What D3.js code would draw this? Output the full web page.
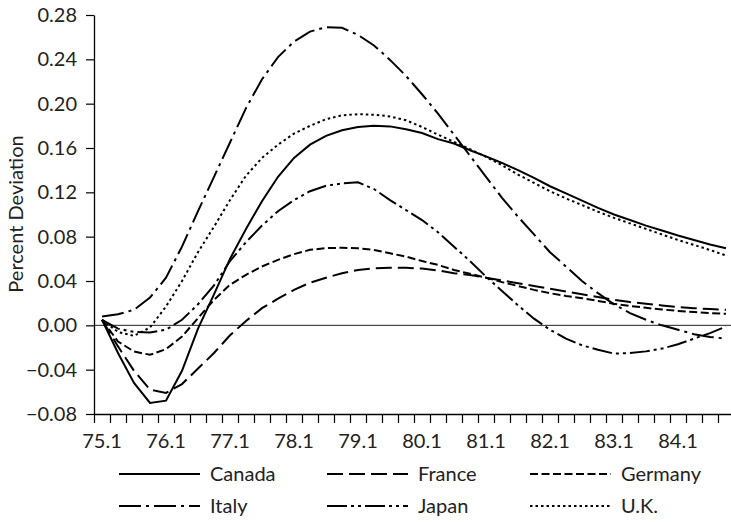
<!DOCTYPE html>
<html>
<head>
<meta charset="utf-8">
<script src="https://cdn.jsdelivr.net/npm/d3@7"></script>
<style>
  body { margin: 0; background: #fff; }
  svg { display: block; font-family: Lato, "Open Sans", sans-serif; }
</style>
</head>
<body>
<div id="chart"></div>
<script>
// quarters 75.1 .. 84.4
const quarters = [
  "75.1","75.2","75.3","75.4","76.1","76.2","76.3","76.4","77.1","77.2",
  "77.3","77.4","78.1","78.2","78.3","78.4","79.1","79.2","79.3","79.4",
  "80.1","80.2","80.3","80.4","81.1","81.2","81.3","81.4","82.1","82.2",
  "82.3","82.4","83.1","83.2","83.3","83.4","84.1","84.2","84.3","84.4"
];
const tickLabels = ["75.1","76.1","77.1","78.1","79.1","80.1","81.1","82.1","83.1","84.1"];
const yTicks = [-0.08, -0.04, 0, 0.04, 0.08, 0.12, 0.16, 0.20, 0.24, 0.28];

const canada = [0.005, -0.025, -0.052, -0.070, -0.068, -0.041, -0.003, 0.028, 0.060, 0.087,
  0.112, 0.134, 0.151, 0.163, 0.171, 0.176, 0.179, 0.180, 0.1795, 0.177,
  0.1735, 0.168, 0.164, 0.158, 0.1525, 0.1465, 0.140, 0.133, 0.1255, 0.119,
  0.1125, 0.106, 0.100, 0.095, 0.090, 0.0855, 0.081, 0.077, 0.073, 0.0695];
const france = [0.005, -0.019, -0.041, -0.058, -0.061, -0.053, -0.039, -0.025, -0.009, 0.004,
  0.0155, 0.024, 0.032, 0.0385, 0.043, 0.047, 0.050, 0.0515, 0.052, 0.052,
  0.0512, 0.0495, 0.047, 0.0455, 0.043, 0.0405, 0.038, 0.0355, 0.033, 0.0305,
  0.028, 0.0255, 0.023, 0.021, 0.0195, 0.018, 0.0165, 0.0155, 0.0147, 0.014];
const germany = [0.005, -0.0146, -0.0236, -0.0266, -0.0215, -0.0101, 0.0065, 0.023, 0.0366, 0.0456,
  0.0531, 0.0591, 0.0642, 0.0681, 0.0697, 0.070, 0.0695, 0.068, 0.065, 0.062,
  0.058, 0.0545, 0.050, 0.0465, 0.043, 0.039, 0.0355, 0.032, 0.029, 0.0265,
  0.0245, 0.022, 0.0195, 0.0175, 0.0158, 0.0143, 0.013, 0.012, 0.011, 0.0104];
const italy = [0.008, 0.010, 0.014, 0.025, 0.043, 0.071, 0.103, 0.134, 0.165, 0.196,
  0.222, 0.242, 0.256, 0.265, 0.269, 0.2685, 0.262, 0.2525, 0.2395, 0.225,
  0.2085, 0.191, 0.172, 0.153, 0.134, 0.115, 0.098, 0.082, 0.066, 0.053,
  0.040, 0.029, 0.019, 0.011, 0.005, 0.000, -0.004, -0.008, -0.0105, -0.012];
const japan = [0.005, -0.003, -0.006, -0.0065, -0.004, 0.005, 0.019, 0.036, 0.058, 0.075,
  0.090, 0.103, 0.113, 0.121, 0.126, 0.128, 0.129, 0.123, 0.113, 0.104,
  0.095, 0.084, 0.071, 0.058, 0.044, 0.031, 0.018, 0.006, -0.004, -0.012,
  -0.018, -0.022, -0.0255, -0.025, -0.0235, -0.021, -0.017, -0.012, -0.007, -0.001];
const uk = [0.005, -0.006, -0.0095, -0.002, 0.017, 0.040, 0.066, 0.089, 0.113, 0.135,
  0.151, 0.163, 0.173, 0.180, 0.186, 0.1895, 0.1905, 0.190, 0.1885, 0.185,
  0.179, 0.172, 0.1655, 0.159, 0.152, 0.1445, 0.136, 0.1285, 0.121, 0.1145,
  0.1085, 0.1025, 0.097, 0.092, 0.087, 0.082, 0.077, 0.0725, 0.068, 0.063];

const countries = ["Canada", "France", "Germany", "Italy", "Japan", "U.K."];
const seriesValues = [canada, france, germany, italy, japan, uk];
const dashes = ["none", "16,6", "8,3.5", "22,5,3,5", "20,4,3,4,3,4", "2.5,3"];

const width = 731, height = 522;
const plotLeft = 94, plotTop = 15, plotBottom = 414, band = 16;

const svg = d3.select('#chart').append('svg')
    .attr('width', width)
    .attr('height', height);

// X (category bands, Excel style)
const x = d3.scaleBand()
    .domain(quarters)
    .range([plotLeft, plotLeft + quarters.length * band]);
const xi = d3.scaleLinear()
    .domain([0, quarters.length])
    .range(x.range());

// Y
const y = d3.scaleLinear()
    .domain([-0.08, 0.28])
    .range([plotBottom, plotTop]);

// Zero line
svg.append('line')
    .attr('x1', plotLeft).attr('x2', width)
    .attr('y1', y(0)).attr('y2', y(0))
    .attr('stroke', '#222').attr('stroke-width', 1);

// Axis
svg.append('g')
    .attr('transform', `translate(0,${plotBottom})`)
    .call(d3.axisBottom(xi).tickValues(d3.range(0, quarters.length + 1)).tickFormat('').tickSize(9).tickSizeOuter(0));
const xLabels = svg.append('g')
    .attr('transform', `translate(0,${plotBottom})`)
    .call(d3.axisBottom(x).tickValues(tickLabels).tickSize(0).tickPadding(20));
xLabels.select('.domain').remove();

svg.append('g')
    .attr('transform', `translate(${plotLeft},0)`)
    .call(d3.axisLeft(y).tickValues(yTicks).tickFormat(d3.format('.2f')).tickSize(8).tickPadding(9).tickSizeOuter(0));

svg.selectAll('.domain').attr('stroke', '#000').attr('stroke-width', 1.3);
svg.selectAll('.tick line').attr('stroke', '#000').attr('stroke-width', 1.2);
svg.selectAll('.tick text').attr('font-size', 20).attr('fill', '#222')
    .attr('font-family', 'Lato, sans-serif');

svg.append('text')
    .attr('transform', 'translate(23,214) rotate(-90)')
    .attr('text-anchor', 'middle')
    .attr('font-size', 20)
    .attr('fill', '#222')
    .text('Percent Deviation');

// Lines
const line = d3.line()
    .x((d, i) => x(quarters[i]) + x.bandwidth() / 2)
    .y(d => y(d));

svg.selectAll('.series')
    .data(seriesValues)
    .enter().append('path')
    .attr('class', 'series')
    .attr('d', d => line(d))
    .attr('fill', 'none')
    .attr('stroke', '#000')
    .attr('stroke-width', 2)
    .attr('stroke-dasharray', (d, i) => dashes[i]);

// Legend
const legendCols = [119, 327, 530], legendRows = [474, 506];
const item = svg.selectAll('.legend')
    .data(countries)
    .enter().append('g')
    .attr('class', 'legend')
    .attr('transform', (d, i) => `translate(${legendCols[i % 3]},${legendRows[Math.floor(i / 3)]})`);

item.append('line')
    .attr('x1', 0).attr('x2', 81)
    .attr('stroke', '#000')
    .attr('stroke-width', 2)
    .attr('stroke-dasharray', (d, i) => dashes[i]);

item.append('text')
    .attr('x', 91)
    .attr('dy', '0.35em')
    .attr('font-size', 20)
    .attr('fill', '#222')
    .text(d => d);
</script>
</body>
</html>
